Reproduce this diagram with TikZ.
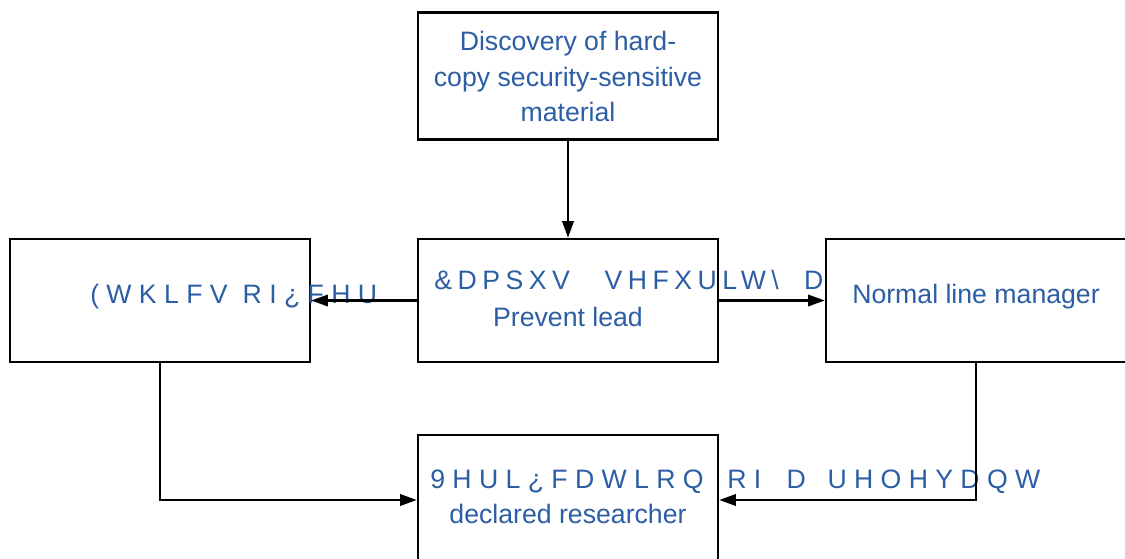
\documentclass[tikz,border=0pt]{standalone}
\usepackage{fontspec}
\setmainfont{Liberation Sans}
\newfontfamily\gfont{Liberation Sans}[LetterSpace=27.5]
\newfontfamily\gfontc{Liberation Sans}[LetterSpace=20.6]
\usetikzlibrary{arrows.meta}
\definecolor{txtblue}{RGB}{44,94,165}
\begin{document}
\begin{tikzpicture}[x=0.75pt,y=-0.75pt,
  box/.style={draw=black, line width=1.8pt, fill=white, rectangle, inner sep=0pt,
    minimum width=225pt, minimum height=92.25pt},
  lbl/.style={text=txtblue, font=\fontsize{20}{26.5}\selectfont, inner sep=0pt, anchor=base},
  glbl/.style={text=txtblue, font=\gfont\fontsize{20}{26.5}\selectfont, inner sep=0pt, anchor=base west},
  glblc/.style={text=txtblue, font=\gfontc\fontsize{20}{26.5}\selectfont, inner sep=0pt, anchor=base west},
  arr/.style={line width=1.8pt, -{Triangle[length=12.5pt,width=8.5pt]}}
]
\useasboundingbox (0,0) rectangle (1125,558);
\clip (0,0) rectangle (1125,558);
% boxes
\node[box, minimum height=95.25pt] (top) at (568,76) {};
\node[box] (cen) at (568,300.5) {};
\node[box] (left) at (160,300.5) {};
\node[box, minimum height=97.5pt] (bot) at (568,500) {};
% texts
\node[lbl, align=center] (toptext) at (568,121.5) {Discovery of hard-\\copy security-sensitive\\material};
\node[glbl] (lefttext) at (90,303) {(WKLFV\hspace{11.25pt}RI¿FHU};
\node[glblc] (centext) at (434,289) {\&DPSXV\hspace{26pt}VHFXULW\textbackslash\hspace{19pt}D};
\node[lbl] (cenlead) at (568,326) {Prevent lead};
\node[glbl] (bottext) at (430,488) {9HUL¿FDWLRQ\hspace{17.75pt}RI\hspace{19pt}D\hspace{16.25pt}UHOHYDQW};
\node[lbl] (botdecl) at (568,523.5) {declared researcher};
% right box drawn over the clipped text
\node[box] (right) at (976,300.5) {};
\node[lbl] (righttext) at (976,303) {Normal line manager};
% connectors
\draw[arr] (top.south) -- (cen.north);
\draw[arr] (cen.west) -- (left.east);
\draw[arr] (cen.east) -- (right.west);
\draw[arr] (left.south) |- (bot.west);
\draw[arr] (right.south) |- (bot.east);
\end{tikzpicture}
\end{document}
